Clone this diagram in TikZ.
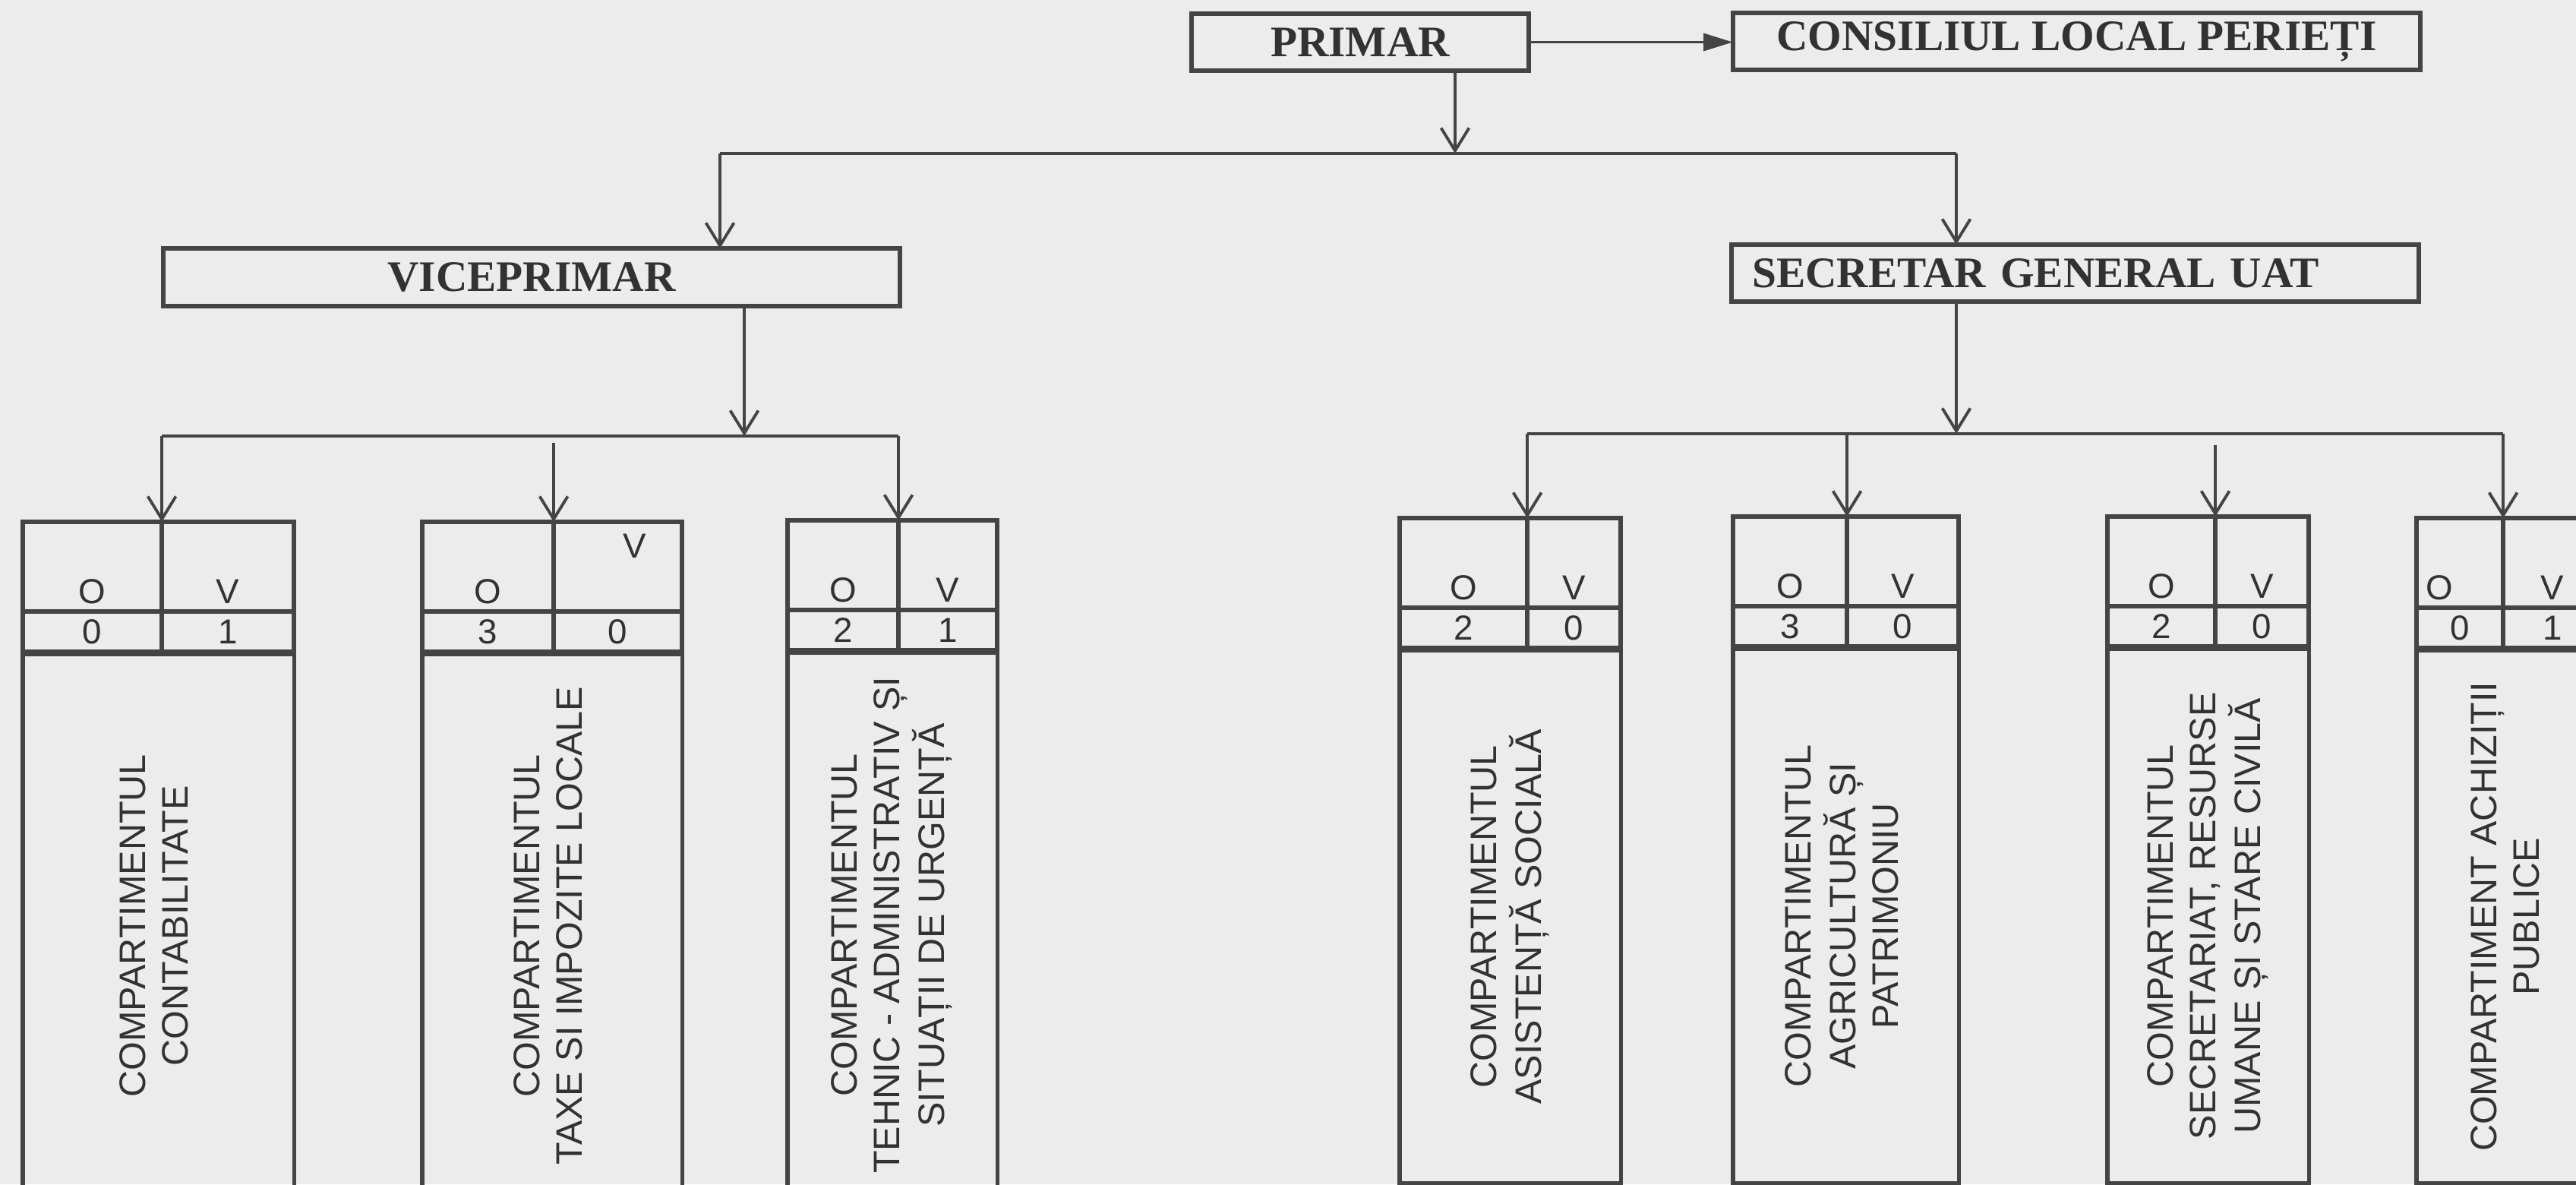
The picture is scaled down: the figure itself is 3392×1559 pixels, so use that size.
\documentclass[tikz,border=0pt]{standalone}
\usepackage{fontspec}
\setmainfont{Liberation Serif}
\newfontfamily\arialf{Liberation Sans}
\usepackage{graphicx}
\usetikzlibrary{arrows.meta,calc}
\definecolor{bg}{RGB}{236,236,236}
\definecolor{ink}{RGB}{68,68,68}
\definecolor{txt}{RGB}{50,50,50}

\tikzset{
  titlebox/.style={draw=ink, line width=1.7pt, rectangle, inner sep=0pt, outer sep=0pt, text=txt,
    font=\fontsize{16.3}{19}\selectfont\bfseries, minimum height=0.75cm},
  hcell/.style={draw=ink, line width=1.5pt, rectangle, inner sep=0pt, outer sep=0pt, minimum height=1.18cm},
  ncell/.style={draw=ink, line width=1.5pt, rectangle, inner sep=0pt, outer sep=0pt, minimum height=0.53cm,
    text=txt, font=\arialf\fontsize{13}{15}\selectfont},
  bodybox/.style={draw=ink, line width=1.5pt, rectangle, inner sep=0pt, outer sep=0pt, text=txt,
    font=\arialf\fontsize{13.8}{16}\selectfont},
  hlab/.style={inner sep=0pt, text=txt, font=\arialf\fontsize{13}{15}\selectfont},
  olab/.style={hlab, anchor=base, yshift=-0.48cm},
  vlab/.style={hlab, anchor=base, yshift=-0.48cm},
  conn/.style={draw=ink, line width=1.1pt},
  openarr/.style={conn, -{Straight Barb[length=8.5pt,width=10.5pt]}},
  fillarr/.style={conn, -{Triangle[length=11pt,width=6.5pt]}},
}

% #1 name, #2 left, #3 divider, #4 right, #5 top, #6 O number, #7 V number, #8 body text, #9 body height (cm)
\newcommand\deptbox[9]{%
  \pgfmathsetmacro\dwl{(#3-#2)/100}%
  \pgfmathsetmacro\dwr{(#4-#3)/100}%
  \pgfmathsetmacro\dwb{(#4-#2)/100}%
  \node[hcell, minimum width=\dwl cm, anchor=north west] (#1o) at (#2,#5) {};
  \node[hcell, minimum width=\dwr cm, anchor=north west] (#1v) at (#3,#5) {};
  \node[olab] (#1ol) at (#1o.center) {O};
  \node[vlab] (#1vl) at (#1v.center) {V};
  \node[ncell, minimum width=\dwl cm, anchor=north west] (#1on) at (#1o.south west) {#6};
  \node[ncell, minimum width=\dwr cm, anchor=north west] (#1vn) at (#1v.south west) {#7};
  \node[bodybox, minimum width=\dwb cm, minimum height=#9cm, anchor=north west] (#1b)
    at ([yshift=-0.03cm]#1on.south west) {\rotatebox{90}{\begin{tabular}{@{}c@{}}#8\end{tabular}}};
  \coordinate (#1t) at (#1o.north east);
}

\begin{document}
\begin{tikzpicture}[x=0.01cm, y=-0.01cm]
\useasboundingbox (0,0) rectangle (3392,1559);
\fill[bg] (0,0) rectangle (3392,1559);
\clip (0,0) rectangle (3392,1559);

% top level
\node[titlebox, minimum width=4.44cm] (primar) at (1791,55.5) {PRIMAR};
\node[titlebox, minimum width=9.05cm] (cons) at (2734.5,54.5) {CONSILIUL LOCAL PERIEȚI};
\node[titlebox, minimum width=9.70cm, minimum height=0.76cm] (vice) at (700,365) {VICEPRIMAR};
\node[titlebox, minimum width=9.05cm, text width=8.5cm, align=left] (sec) at (2732.5,359.5) {SECRETAR GENERAL UAT};

% departments
\deptbox{da}{30}{213}{387}{687}{0}{1}{COMPARTIMENTUL\\CONTABILITATE}{7.15}
\begin{scope}[vlab/.style={hlab, anchor=base, yshift=0.12cm, xshift=0.22cm}]
\deptbox{db}{556}{729}{898}{687}{3}{0}{COMPARTIMENTUL\\TAXE SI IMPOZITE LOCALE}{7.15}
\end{scope}
\deptbox{dc}{1037}{1183}{1313}{685}{2}{1}{COMPARTIMENTUL\\TEHNIC - ADMINISTRATIV ȘI\\SITUAȚII DE URGENȚĂ}{7.17}
\deptbox{dd}{1843}{2011}{2134}{682}{2}{0}{COMPARTIMENTUL\\ASISTENȚĂ SOCIALĂ}{7.01}
\deptbox{de}{2282}{2432}{2579}{680}{3}{0}{COMPARTIMENTUL\\AGRICULTURĂ ȘI\\PATRIMONIU}{7.03}
\deptbox{df}{2775}{2917}{3040}{680}{2}{0}{COMPARTIMENTUL\\SECRETARIAT, RESURSE\\UMANE ȘI STARE CIVILĂ}{7.03}
\begin{scope}[olab/.style={hlab, anchor=base, yshift=-0.48cm, xshift=-0.27cm}]
\deptbox{dg}{3182}{3296}{3426}{682}{0}{1}{COMPARTIMENT ACHIZIȚII\\PUBLICE}{7.01}
\end{scope}

% connectors: top level
\coordinate (j0) at (1916,202);
\coordinate (jL) at (948,202);
\coordinate (jR) at (2576,202);
\draw[fillarr] (primar.east) -- (primar.east -| cons.west);
\draw[openarr] (primar.south -| j0) -- (j0);
\draw[conn] (jL) -- (jR);
\draw[openarr] (jL) -- (jL |- vice.north);
\draw[openarr] (jR) -- (jR |- sec.north);

% VICEPRIMAR branch
\coordinate (vj) at (980,574);
\draw[openarr] (vice.south -| vj) -- (vj);
\draw[conn] (dat |- vj) -- (dct |- vj);
\draw[openarr] (dat |- vj) -- (dat);
\draw[openarr] ([yshift=-0.09cm]dbt |- vj) -- (dbt);
\draw[openarr] (dct |- vj) -- (dct);

% SECRETAR branch
\coordinate (sj) at (2576,571);
\draw[openarr] (sec.south -| sj) -- (sj);
\draw[conn] (ddt |- sj) -- (dgt |- sj);
\draw[openarr] (ddt |- sj) -- (ddt);
\draw[openarr] (det |- sj) -- (det);
\draw[openarr] ([yshift=-0.15cm]dft |- sj) -- (dft);
\draw[openarr] (dgt |- sj) -- (dgt);
\end{tikzpicture}
\end{document}
